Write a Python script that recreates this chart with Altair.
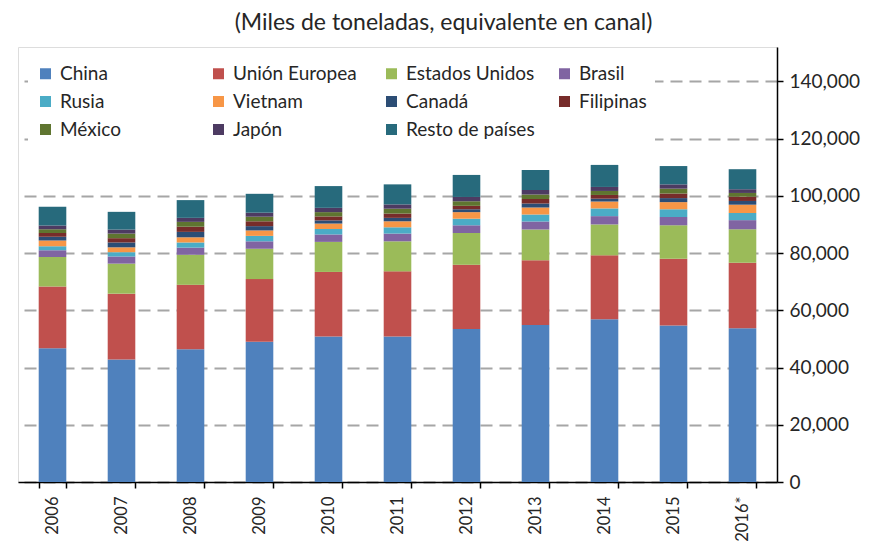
import altair as alt
import pandas as pd

years = ["2006", "2007", "2008", "2009", "2010", "2011", "2012", "2013", "2014", "2015", "2016*"]

series = ["China", "Unión Europea", "Estados Unidos", "Brasil", "Rusia", "Vietnam",
          "Canadá", "Filipinas", "México", "Japón", "Resto de países"]

china = [46700, 42800, 46400, 49000, 50800, 50800, 53500, 54900, 56900, 54700, 53700]
union_europea = [21600, 23000, 22500, 21900, 22600, 22800, 22400, 22600, 22300, 23300, 22900]
estados_unidos = [10300, 10500, 10500, 10600, 10500, 10500, 11100, 10700, 10800, 11700, 11700]
brasil = [2400, 2500, 2500, 2600, 2600, 2700, 2700, 2800, 2900, 2900, 3200]
rusia = [1400, 1500, 1800, 1900, 1900, 2200, 2300, 2500, 2700, 2700, 2500]
vietnam = [2000, 1700, 1800, 1900, 1900, 2100, 2300, 2400, 2400, 2500, 2900]
canada = [1300, 1700, 1900, 1500, 1100, 1200, 1000, 1400, 1000, 1400, 1300]
filipinas = [1300, 1500, 1800, 1700, 1400, 1500, 1200, 1600, 1300, 1600, 1500]
mexico = [1300, 1600, 1700, 1600, 1500, 1700, 1600, 1600, 1400, 1700, 1300]
japon = [1300, 1400, 1400, 1400, 1500, 1500, 1500, 1500, 1400, 1500, 1300]
resto = [6600, 6200, 6200, 6600, 7600, 7000, 7700, 7000, 7700, 6400, 7000]

colors = ["#4F81BD", "#C0504D", "#9BBB59", "#8064A2", "#4BACC6", "#F79646",
          "#2C4D75", "#772C2A", "#5F7530", "#4D3B62", "#276A7C"]

y_ticks = [0, 20000, 40000, 60000, 80000, 100000, 120000, 140000]

values = [china, union_europea, estados_unidos, brasil, rusia, vietnam,
          canada, filipinas, mexico, japon, resto]

rows = []
for k, (name, vals) in enumerate(zip(series, values)):
    for yr, v in zip(years, vals):
        rows.append({"anio": yr, "pais": name, "valor": v, "orden": k})
df = pd.DataFrame(rows)

FONT = "Lato"
TXT = "#262626"

chart = alt.Chart(df).mark_bar().encode(
    x=alt.X("anio:N", sort=years,
            scale=alt.Scale(paddingInner=0.6, paddingOuter=0.3),
            axis=alt.Axis(title=None, labelAngle=-90, tickBand="extent",
                          labelFontSize=16.5, labelFont=FONT, labelColor=TXT,
                          labelPadding=8, tickSize=6, tickColor="#000000",
                          domainColor="#000000", domainWidth=1.5, tickWidth=1.5)),
    y=alt.Y("valor:Q", stack="zero",
            scale=alt.Scale(domain=[0, 152000], nice=False),
            axis=alt.Axis(title=None, orient="right", values=y_ticks, format=",.0f",
                          labelFontSize=19, labelFont=FONT, labelColor=TXT,
                          labelPadding=6, tickSize=6, tickColor="#000000", tickWidth=1.5,
                          domainColor="#000000", domainWidth=1.5,
                          grid=True, gridColor="#A6A6A6", gridDash=[12, 7], gridWidth=2)),
    color=alt.Color("pais:N", scale=alt.Scale(domain=series, range=colors),
                    legend=alt.Legend(title=None, orient="none", legendX=10, legendY=9,
                                      direction="horizontal",
                                      columns=4, gridAlign="all", columnPadding=20,
                                      rowPadding=8, symbolType="square", symbolSize=121,
                                      symbolStrokeWidth=0, labelFontSize=19, labelFont=FONT,
                                      labelColor=TXT, labelOffset=5, padding=8,
                                      fillColor="#FFFFFF")),
    order=alt.Order("orden:Q", sort="ascending"),
).properties(
    width=759,
    height=435,
    title=alt.TitleParams(text="(Miles de toneladas, equivalente en canal)",
                          fontSize=23, font=FONT, fontWeight="normal", color=TXT,
                          anchor="middle", dx=46, offset=12),
    padding={"left": 10, "top": 39, "right": 88, "bottom": 59},
    autosize=alt.AutoSizeParams(type="none"),
).configure_view(stroke=None).configure(background="#FFFFFF")

chart.save("out.html", embed_options={"renderer": "svg", "actions": False})
